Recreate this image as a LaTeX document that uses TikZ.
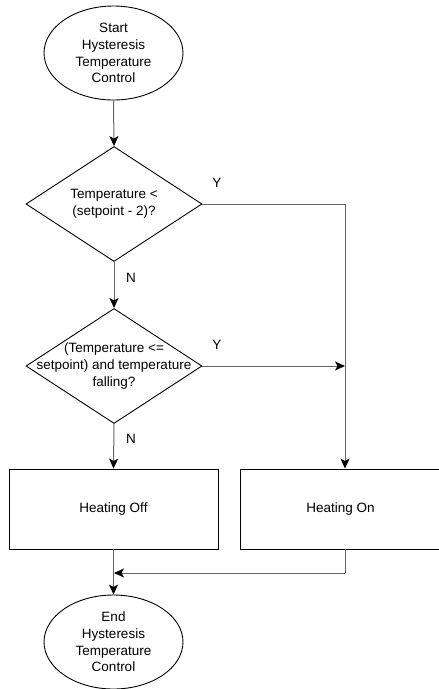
\documentclass[tikz,border=0pt]{standalone}
\usepackage{fontspec}
\setmainfont{Liberation Sans}
\usetikzlibrary{shapes.geometric,arrows.meta}
\begin{document}
\begin{tikzpicture}[x=1pt,y=-1pt,
  every node/.style={font=\fontsize{13.5}{16.7}\selectfont, align=center, inner sep=0pt},
  term/.style={draw=black, line width=0.9pt, ellipse, minimum width=139pt, minimum height=94pt},
  decis/.style={draw=black, line width=0.9pt, diamond, minimum width=176pt, minimum height=115pt},
  intext/.style={font=\fontsize{13.5}{16.7}\selectfont, align=center, inner sep=0pt},
  proc/.style={draw=black, line width=0.9pt, rectangle, minimum width=209pt, minimum height=80pt},
  conn/.style={draw=black!60, line width=1pt, -{Stealth[length=10pt,width=9pt,inset=2.5pt,black]}},
  plain/.style={draw=black!60, line width=1pt},
  lbl/.style={font=\fontsize{13.5}{16}\selectfont}
]
\useasboundingbox (0,0) rectangle (439,689);
\node[term] (start) at (113.5,53) {Start\\Hysteresis\\Temperature\\Control};
\node[decis, label={[intext]center:Temperature <\\(setpoint - 2)?}] (d1) at (114,204) {};
\node[decis, label={[intext]center:(Temperature <=\\setpoint) and temperature\\falling?}] (d2) at (114,366) {};
\node[proc] (off) at (113.5,509) {Heating Off};
\node[proc, minimum width=201pt] (on) at (340.5,509) {Heating On};
\node[term] (end) at (113.5,642) {End\\Hysteresis\\Temperature\\Control};
\coordinate (c1) at (345,204);
\coordinate (c2) at (345,366);
\coordinate (c3) at (345,573);
\coordinate (c4) at (114,573);
\draw[conn] (start.south) -- (d1.north);
\draw[conn] (d1.south) -- (d2.north);
\draw[plain] (d1.east) -- (c1);
\draw[conn] (c1) -- (on.north -| c1);
\draw[conn] (d2.east) -- (c2);
\draw[conn] (d2.south) -- (off.north);
\draw[conn] (off.south) -- (end.north);
\draw[plain] (on.south -| c3) -- (c3);
\draw[conn] (c3) -- (c4);
\node[lbl] at (217,183) {Y};
\node[lbl] at (217,345) {Y};
\node[lbl] at (131,278) {N};
\node[lbl] at (131,439) {N};
\end{tikzpicture}
\end{document}
